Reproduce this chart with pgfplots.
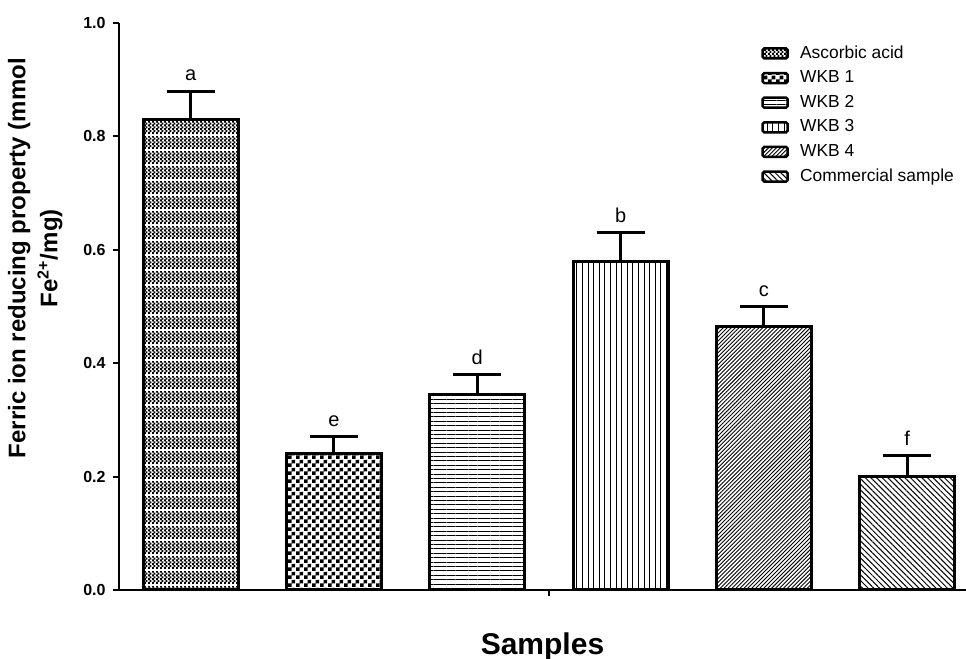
\documentclass[border=0pt]{standalone}
\usepackage{fontspec}
\setmainfont{Liberation Sans}
\usepackage{pgfplots}
\pgfplotsset{compat=1.18}
\usetikzlibrary{patterns,patterns.meta}

\pgfdeclarepatternformonly{check}{\pgfpointorigin}{\pgfqpoint{4pt}{4pt}}{\pgfqpoint{4pt}{4pt}}{%
 \pgfpathrectangle{\pgfpointorigin}{\pgfqpoint{2pt}{2pt}}%
 \pgfpathrectangle{\pgfqpoint{2pt}{2pt}}{\pgfqpoint{2pt}{2pt}}%
 \pgfusepath{fill}}

\pgfdeclarepatternformonly{finecheck}{\pgfpointorigin}{\pgfqpoint{2pt}{7.5pt}}{\pgfqpoint{2pt}{7.5pt}}{%
 \pgfpathrectangle{\pgfqpoint{0pt}{0pt}}{\pgfqpoint{1.1pt}{1.1pt}}%
 \pgfpathrectangle{\pgfqpoint{1pt}{1pt}}{\pgfqpoint{1.1pt}{1.1pt}}%
 \pgfpathrectangle{\pgfqpoint{0pt}{2pt}}{\pgfqpoint{1.1pt}{1.1pt}}%
 \pgfpathrectangle{\pgfqpoint{1pt}{3pt}}{\pgfqpoint{1.1pt}{1.1pt}}%
 \pgfpathrectangle{\pgfqpoint{0pt}{4pt}}{\pgfqpoint{1.1pt}{1.1pt}}%
 \pgfpathrectangle{\pgfqpoint{1pt}{5pt}}{\pgfqpoint{1.1pt}{1.1pt}}%
 \pgfpathrectangle{\pgfqpoint{0pt}{6pt}}{\pgfqpoint{1.1pt}{0.8pt}}%
 \pgfusepath{fill}}

\begin{document}
\begin{tikzpicture}
\begin{axis}[
  name=ax,
  at={(0pt,0pt)}, anchor=south west,
  scale only axis,
  width=423.5pt, height=283.5pt,
  ybar, bar width=47.5pt, bar shift=0pt,
  xmin=-0.5, xmax=5.41,
  ymin=0, ymax=1.0,
  axis x line*=bottom, axis y line*=left,
  axis line style={line width=1pt, -},
  every tick/.style={black, line width=1pt},
  tick align=outside,
  major tick length=3.2pt,
  xtick={2.5}, xticklabels={},
  ytick={0,0.2,0.4,0.6,0.8,1.0},
  /pgf/number format/assume math mode=true,
  yticklabel style={font=\bfseries\fontsize{8}{9}\selectfont, /pgf/number format/.cd, fixed, fixed zerofill, precision=1},
  ylabel={Ferric ion reducing property (mmol\\Fe\textsuperscript{2+}/mg)},
  ylabel style={font=\bfseries\fontsize{12}{16}\selectfont, align=center,
    at={(axis description cs:-0.099,0.585)}, anchor=center},
  xlabel={Samples},
  xlabel style={font=\bfseries\fontsize{15}{18}\selectfont, yshift=-8pt},
  error bars/y dir=plus, error bars/y explicit,
  error bars/error bar style={line width=1.5pt, black},
  error bars/error mark options={rotate=90, mark size=12pt, line width=1.5pt, black},
  legend style={draw=none, fill=none, at={(rel axis cs:0.758,0.968)}, anchor=north west,
    font=\fontsize{8.7}{9.5}\selectfont, row sep=0.75pt, inner sep=0pt},
  legend cell align=left,
  legend image code/.code={\draw[#1, line width=1.2pt, rounded corners=0.8pt] (0pt,-2.5pt) rectangle (12.5pt,2.5pt);\path (16pt,0pt);},
  clip=false,
]
\addplot[draw=black, line width=1.5pt, pattern=finecheck] coordinates {(0,0.83) +- (0,0.05)};
\addlegendentry{Ascorbic acid}
\addplot[draw=black, line width=1.5pt, pattern=check] coordinates {(1,0.24) +- (0,0.03)};
\addlegendentry{WKB 1}
\addplot[draw=black, line width=1.5pt, pattern={Lines[angle=0, distance=2.2pt, line width=0.5pt]}] coordinates {(2,0.345) +- (0,0.035)};
\addlegendentry{WKB 2}
\addplot[draw=black, line width=1.5pt, pattern={Lines[angle=90, distance=2.8pt, line width=0.5pt]}] coordinates {(3,0.58) +- (0,0.05)};
\addlegendentry{WKB 3}
\addplot[draw=black, line width=1.5pt, pattern={Lines[angle=45, distance=1.4pt, line width=0.45pt]}] coordinates {(4,0.465) +- (0,0.035)};
\addlegendentry{WKB 4}
\addplot[draw=black, line width=1.5pt, pattern={Lines[angle=-45, distance=2pt, line width=0.5pt]}] coordinates {(5,0.20) +- (0,0.037)};
\addlegendentry{Commercial sample}
\node[font=\fontsize{10}{11}\selectfont, anchor=south] at (axis cs:0,0.885) {a};
\node[font=\fontsize{10}{11}\selectfont, anchor=south] at (axis cs:1,0.275) {e};
\node[font=\fontsize{10}{11}\selectfont, anchor=south] at (axis cs:2,0.385) {d};
\node[font=\fontsize{10}{11}\selectfont, anchor=south] at (axis cs:3,0.635) {b};
\node[font=\fontsize{10}{11}\selectfont, anchor=south] at (axis cs:4,0.505) {c};
\node[font=\fontsize{10}{11}\selectfont, anchor=south] at (axis cs:5,0.242) {f};
\end{axis}
\pgfresetboundingbox
\path[use as bounding box] (-59.5pt,-34.5pt) rectangle (423.5pt,295pt);
\end{tikzpicture}
\end{document}
